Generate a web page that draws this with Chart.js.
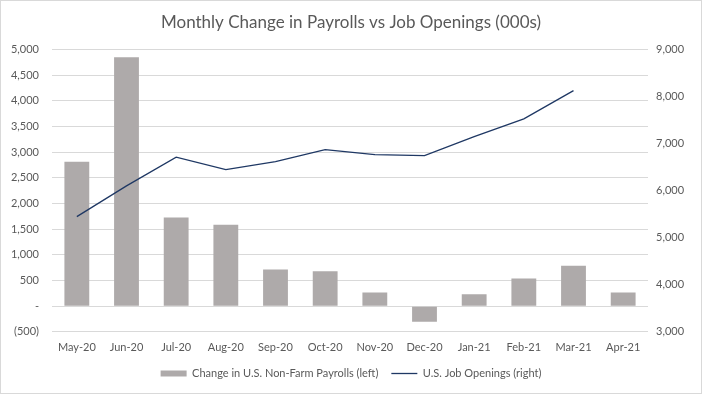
<!DOCTYPE html>
<html>
<head>
<meta charset="utf-8">
<script src="https://cdn.jsdelivr.net/npm/chart.js@4"></script>
<style>
  html, body { margin: 0; padding: 0; background: #fff; }
  #wrap { width: 702px; height: 394px; }
</style>
</head>
<body>
<div id="wrap"><canvas id="chart" width="702" height="394"></canvas></div>
<script>
const MONTHS = ["May-20", "Jun-20", "Jul-20", "Aug-20", "Sep-20", "Oct-20",
                "Nov-20", "Dec-20", "Jan-21", "Feb-21", "Mar-21", "Apr-21"];
// change in non-farm payrolls, thousands (left axis)
const PAYROLLS = [2810, 4846, 1726, 1583, 711, 680, 264, -306, 233, 536, 785, 266];
// job openings, thousands (right axis), April not yet reported
const OPENINGS = [5447, 6100, 6709, 6447, 6617, 6872, 6766, 6745, 7149, 7525, 8123, null];

const TXT = "#595959";
const FONT = "Lato, 'Liberation Sans', sans-serif";

const fmt = v => {
    if (v === 0) return "-";
    const s = Math.abs(v).toLocaleString("en-US");
    return v < 0 ? "(" + s + ")" : s;
};

const frame = {
    id: "frame",
    beforeDraw(chart) {
        const c = chart.ctx;
        c.save();
        c.fillStyle = "#fff";
        c.fillRect(0, 0, chart.width, chart.height);
        c.strokeStyle = "#d9d9d9";
        c.lineWidth = 1;
        c.strokeRect(0.5, 0.5, chart.width - 1, chart.height - 1);
        c.restore();
    }
};

new Chart(document.getElementById("chart"), {
    data: {
        labels: MONTHS,
        datasets: [
            {
                type: "line",
                label: "U.S. Job Openings (right)",
                data: OPENINGS,
                yAxisID: "yR",
                borderColor: "#1f3864",
                backgroundColor: "#1f3864",
                borderWidth: 1.3,
                pointRadius: 0,
                pointStyle: "line",
                tension: 0,
                order: 1
            },
            {
                type: "bar",
                label: "Change in U.S. Non-Farm Payrolls (left)",
                data: PAYROLLS,
                yAxisID: "yL",
                backgroundColor: "#aeaaaa",
                borderWidth: 0,
                pointStyle: "rect",
                categoryPercentage: 1,
                barPercentage: 0.5,
                order: 2
            }
        ]
    },
    options: {
        responsive: false,
        animation: false,
        layout: { padding: { top: 4, left: 0, right: 0, bottom: 5 } },
        plugins: {
            title: {
                display: true,
                text: "Monthly Change in Payrolls vs Job Openings (000s)",
                color: TXT,
                font: { family: FONT, size: 17, weight: "normal" },
                padding: { top: 8, bottom: 17 }
            },
            legend: {
                position: "bottom",
                reverse: true,
                labels: {
                    color: TXT,
                    font: { family: FONT, size: 11 },
                    usePointStyle: true,
                    pointStyleWidth: 26,
                    boxHeight: 6,
                    padding: 13
                }
            },
            tooltip: { enabled: false }
        },
        scales: {
            x: {
                grid: { display: false },
                border: { display: false },
                ticks: { color: TXT, font: { family: FONT, size: 11 }, maxRotation: 0, padding: 1 }
            },
            yL: {
                position: "left",
                min: -500,
                max: 5000,
                grid: { color: "#d9d9d9", drawTicks: false },
                border: { display: false },
                ticks: {
                    stepSize: 500,
                    color: TXT,
                    font: { family: FONT, size: 11 },
                    padding: 13,
                    callback: v => fmt(v)
                },
                afterFit: s => { s.width = 52; }
            },
            yR: {
                position: "right",
                min: 3000,
                max: 9000,
                grid: { display: false, drawTicks: false },
                border: { display: false },
                ticks: {
                    stepSize: 1000,
                    color: TXT,
                    font: { family: FONT, size: 11 },
                    padding: 8,
                    callback: v => v.toLocaleString("en-US")
                },
                afterFit: s => { s.width = 54; }
            }
        }
    },
    plugins: [frame]
});
</script>
</body>
</html>
